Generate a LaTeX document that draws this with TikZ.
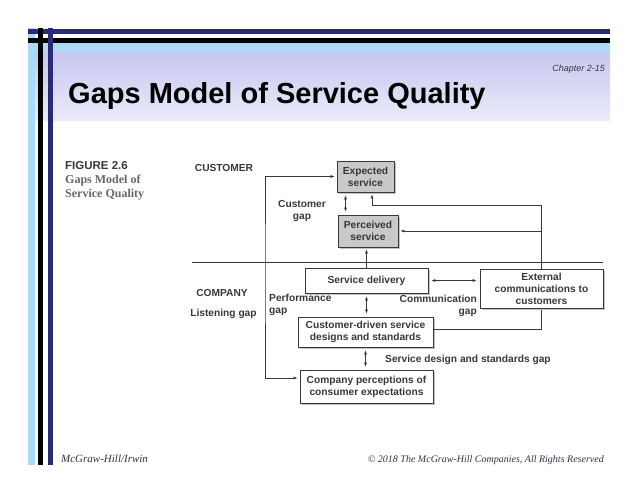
\documentclass[tikz,border=0pt]{standalone}
\usepackage{fontspec}
\setmainfont{Liberation Sans}
\newfontfamily\timesfont{Liberation Serif}
\usetikzlibrary{arrows.meta,shadows}

\definecolor{navy}{HTML}{2A2A78}
\definecolor{skyblue}{HTML}{A9DCF5}
\definecolor{lavender}{HTML}{C6C6EF}
\definecolor{paleviolet}{HTML}{EAEAFA}
\definecolor{ink}{HTML}{383838}
\definecolor{plum}{HTML}{3A2E44}
\definecolor{boxgray}{HTML}{C9C9C9}

\tikzset{
  gapbox/.style={draw=ink, line width=0.8pt, fill=white, inner sep=0pt, align=center, text=ink,
    font=\fontsize{10.2}{12}\selectfont\bfseries,
    drop shadow={shadow xshift=1.5pt, shadow yshift=-1.5pt, fill=black!40, opacity=0.6}},
  custbox/.style={gapbox, fill=boxgray},
  gaptext/.style={text=ink, font=\fontsize{10.2}{12}\selectfont\bfseries, inner sep=0pt},
  flow/.style={draw=ink, line width=0.6pt, >={Latex[length=4pt,width=3pt]}, ->, shorten >=2pt},
  twoway/.style={flow, <->, shorten >=3pt, shorten <=3pt}
}

\begin{document}
\begin{tikzpicture}[x=1pt,y=-1pt]
\useasboundingbox (0,0) rectangle (638,493);

% slide frame
\shade[top color=lavender, bottom color=paleviolet] (28,50) rectangle (610,120);
\fill[skyblue] (28,42) rectangle (610,51);
\fill[skyblue] (28,28) rectangle (35,465);
\fill[navy] (28,29) rectangle (610,33.5);
\fill[black] (28,38) rectangle (610,43);
\fill[black] (37.5,28) rectangle (43,465);
\fill[navy] (47.5,28) rectangle (53,465);

\node[anchor=base west, font=\fontsize{29}{34}\selectfont\bfseries, inner sep=0pt] (title) at (68,103) {Gaps Model of Service Quality};
\node[anchor=base east, font=\fontsize{9}{10}\selectfont\itshape, text=ink, inner sep=0pt] (chapter) at (605,71) {Chapter 2-15};

\node[anchor=base west, font=\fontsize{11.5}{13}\selectfont\bfseries, text=ink, inner sep=0pt] (fig) at (65,169) {FIGURE 2.6};
\node[anchor=north west, align=left, font=\timesfont\fontsize{12}{14}\selectfont\bfseries, text=black!60, inner sep=0pt] (figname) at (65,175) {Gaps Model of\\Service Quality};

% customer side
\node[gaptext] (custlabel) at (224,168) {CUSTOMER};
\node[custbox, minimum width=57pt, minimum height=31pt] (expected) at (365.5,176.5) {Expected\\service};
\node[custbox, minimum width=60pt, minimum height=32pt] (perceived) at (368,231) {Perceived\\service};
\node[gaptext, align=center] (custgap) at (302,211.5) {Customer\\gap};

\draw[ink, line width=0.6pt] (192,262) -- (603,262);

% company side
\node[gaptext] (complabel) at (222,293) {COMPANY};
\node[gaptext] (listengap) at (223.5,314) {Listening gap};
\node[gapbox, minimum width=123pt, minimum height=25pt] (delivery) at (366.5,280.5) {Service delivery};
\node[gapbox, minimum width=123pt, minimum height=39pt] (external) at (541.5,288.5) {External\\communications to\\customers};
\node[gapbox, minimum width=135pt, minimum height=30pt] (designs) at (365.5,332) {Customer-driven service\\designs and standards};
\node[gapbox, minimum width=133pt, minimum height=33pt] (perceptions) at (366.5,386.5) {Company perceptions of\\consumer expectations};
\node[gaptext, align=left, anchor=west] (perfgap) at (269,305) {Performance\\gap};
\node[gaptext, align=right, anchor=east] (commgap) at (477,305.5) {Communication\\gap};
\node[gaptext, anchor=west] (designgap) at (385,360) {Service design and standards gap};

\draw[twoway] ([xshift=-20pt]expected.south) -- ([xshift=-20pt]expected.south |- perceived.north);
\draw[flow] (delivery.north) -- (delivery.north |- perceived.south);
\draw[twoway] (delivery.east) -- (delivery.east -| external.west);
\draw[twoway] (delivery.south) -- (delivery.south |- designs.north);
\draw[twoway] (designs.south) -- (designs.south |- perceptions.north);
\draw[flow] (external.north) -- ++(0,-63) -| ([xshift=6.5pt]expected.south);
\draw[flow] (external.north |- perceived.east) -- (perceived.east);
\draw[flow, -] ([yshift=3pt]designs.east) -| (external.south);

\coordinate (listen) at (265,270);
\draw[twoway, shorten <=2pt, shorten >=2pt] ([yshift=8.5pt]perceptions.west) -| (listen) |- (expected.west);

\node[anchor=base west, font=\timesfont\itshape\fontsize{11}{12}\selectfont, text=plum, inner sep=0pt] (publisher) at (61,462) {McGraw-Hill/Irwin};
\node[anchor=base east, font=\timesfont\itshape\fontsize{10}{12}\selectfont, text=plum, inner sep=0pt] (rights) at (604,462) {© 2018 The McGraw-Hill Companies, All Rights Reserved};

\end{tikzpicture}
\end{document}
